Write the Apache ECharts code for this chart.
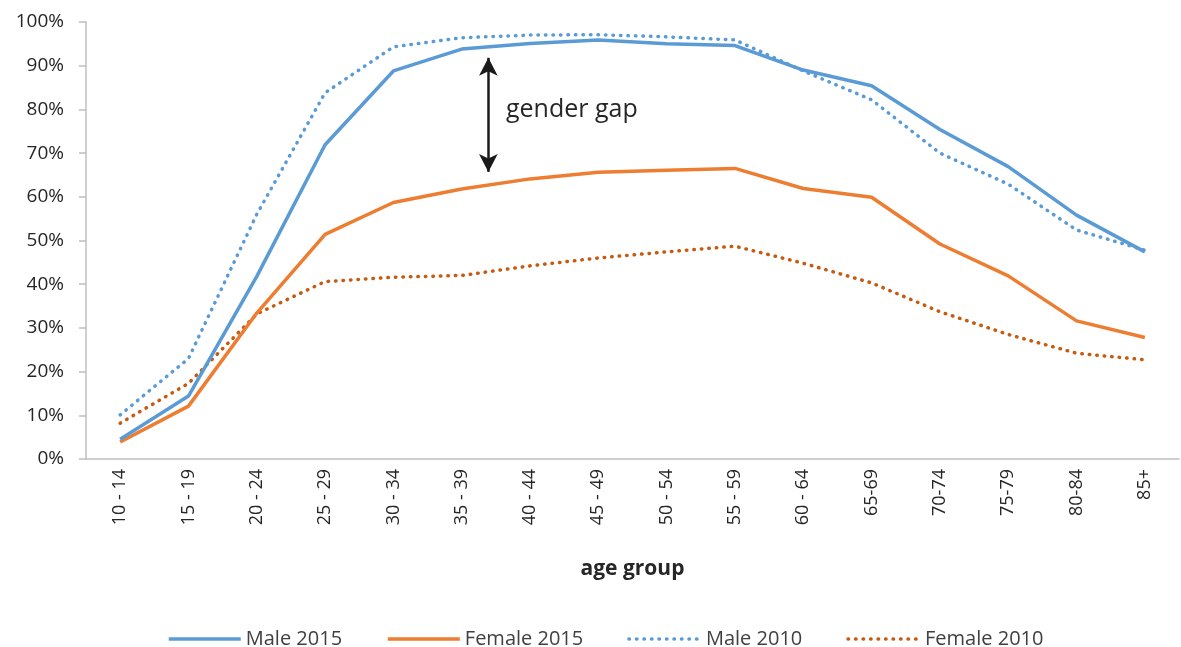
<!DOCTYPE html>
<html>
<head>
<meta charset="utf-8">
<script src="https://cdn.jsdelivr.net/npm/echarts@6/dist/echarts.min.js"></script>
<style>
  html, body { margin: 0; padding: 0; background: #fff; }
  #chart { width: 1181px; height: 647px; }
</style>
</head>
<body>
<div id="chart"></div>
<script>
// age groups
const ageGroups = ['10 - 14', '15 - 19', '20 - 24', '25 - 29', '30 - 34', '35 - 39', '40 - 44', '45 - 49',
  '50 - 54', '55 - 59', '60 - 64', '65-69', '70-74', '75-79', '80-84', '85+']

// participation rates, %
const male2015 = [4.5, 14.4, 41.8, 71.9, 88.8, 93.8, 95.1, 95.9, 95.0, 94.6, 89.0, 85.4, 75.4, 66.9, 55.8, 47.4]
const female2015 = [3.9, 12.1, 33.4, 51.4, 58.7, 61.8, 64.1, 65.6, 66.1, 66.5, 61.9, 59.9, 49.2, 41.9, 31.6, 27.8]
const male2010 = [10.1, 23.0, 56.0, 83.8, 94.3, 96.4, 97.0, 97.1, 96.6, 95.9, 88.8, 82.2, 70.0, 62.9, 52.4, 47.8]
const female2010 = [8.2, 17.3, 33.2, 40.6, 41.6, 42.0, 44.2, 46.0, 47.4, 48.7, 44.8, 40.3, 33.7, 28.5, 24.2, 22.7]

// gender gap arrow: position between categories (index), top %, bottom %
const gapArrow = [5.39, 91.8, 65.7]

const font = 'Open Sans'
const blue = '#5B9BD5'
const orange = '#ED7D31'
const darkOrange = '#C55A11'

const dots = { type: [0.5, 7], cap: 'round', width: 3.5 }

const chart = echarts.init(document.getElementById('chart'))

const option = {
  animation: false,
  textStyle: { fontFamily: font },
  grid: { left: 86, right: 2, top: 22, bottom: 188 },
  legend: {
    left: 162,
    top: 624,
    itemWidth: 72,
    itemHeight: 14,
    itemGap: 44,
    itemStyle: { opacity: 0, color: 'rgba(0,0,0,0)', borderWidth: 0 },
    lineStyle: { width: 3.5 },
    textStyle: { fontSize: 20, color: '#404040', fontFamily: font },
    data: ['Male 2015', 'Female 2015', 'Male 2010', 'Female 2010']
  },
  xAxis: [
    {
      type: 'category',
      data: ageGroups,
      boundaryGap: true,
      name: 'age group',
      nameLocation: 'middle',
      nameGap: 100,
      nameTextStyle: { fontSize: 21, fontWeight: 'bold', color: '#262626', fontFamily: font },
      axisLine: { lineStyle: { color: '#BFBFBF', width: 1.5 } },
      axisTick: { length: 7, lineStyle: { color: '#BFBFBF', width: 1.5 } },
      axisLabel: { rotate: 90, fontSize: 18, color: '#262626', margin: 10, interval: 0 }
    },
    {
      // hidden value axis aligned with category centres, used for the annotation
      type: 'value',
      min: -0.5,
      max: ageGroups.length - 0.5,
      show: false
    }
  ],
  yAxis: {
    type: 'value',
    min: 0,
    max: 100,
    interval: 10,
    axisLine: { show: true, onZero: false, lineStyle: { color: '#BFBFBF', width: 1.5 } },
    axisTick: { show: true, length: 7, lineStyle: { color: '#BFBFBF', width: 1.5 } },
    splitLine: { show: false },
    axisLabel: { formatter: '{value}%', fontSize: 19, color: '#262626', margin: 22 }
  },
  series: [
    {
      name: 'Male 2015', type: 'line', data: male2015, symbol: 'none',
      itemStyle: { color: blue }, lineStyle: { color: blue, width: 3.5 }, z: 4
    },
    {
      name: 'Female 2015', type: 'line', data: female2015, symbol: 'none',
      itemStyle: { color: orange }, lineStyle: { color: orange, width: 3.5 }, z: 3
    },
    {
      name: 'Male 2010', type: 'line', data: male2010, symbol: 'none',
      itemStyle: { color: blue }, lineStyle: Object.assign({ color: blue }, dots), z: 2
    },
    {
      name: 'Female 2010', type: 'line', data: female2010, symbol: 'none',
      itemStyle: { color: darkOrange }, lineStyle: Object.assign({ color: darkOrange }, dots), z: 2
    },
    {
      name: 'gap', type: 'line', xAxisIndex: 1, data: [], symbol: 'none',
      markLine: {
        silent: true,
        symbol: ['arrow', 'arrow'],
        symbolSize: [14, 18],
        lineStyle: { color: '#1a1a1a', width: 2.5, type: 'solid' },
        label: { show: false },
        data: [[{ coord: [gapArrow[0], gapArrow[1]] }, { coord: [gapArrow[0], gapArrow[2]] }]]
      }
    }
  ],
  graphic: [
    {
      type: 'text',
      left: 506,
      top: 97,
      style: { text: 'gender gap', fontSize: 25, fill: '#262626', fontFamily: font }
    }
  ]
}

chart.setOption(option)

window.addEventListener('resize', function () {
  chart.resize()
})
</script>
</body>
</html>
